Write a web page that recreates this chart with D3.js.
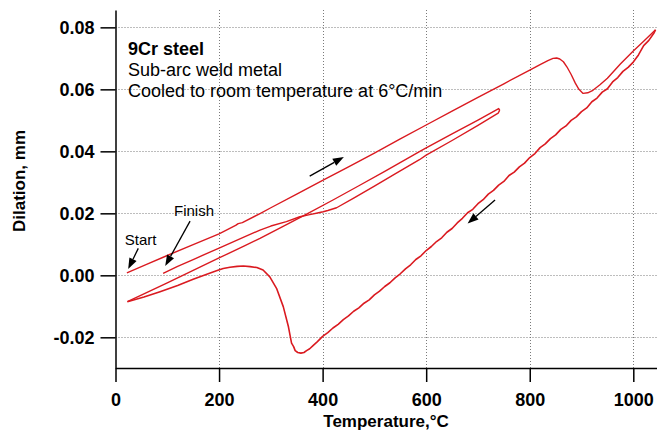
<!DOCTYPE html>
<html><head><meta charset="utf-8">
<script src="https://cdn.jsdelivr.net/npm/d3@7"></script>
<style>
body{margin:0;background:#fff}
svg{display:block}
text{font-family:"Liberation Sans",Arial,Helvetica,sans-serif}
</style>
</head><body><svg id="c" width="657" height="435"></svg>
<script>
// ---------- data (temperature °C, dilation mm) ----------
const xTicks = [0, 200, 400, 600, 800, 1000];
const yTicks = [-0.02, 0.00, 0.02, 0.04, 0.06, 0.08];

// first heating, from Start to peak temperature
const heat1T = [22, 60, 100, 150, 200, 232, 237, 245, 280, 300, 350, 400, 450, 500, 550, 600, 650, 700, 750, 800, 820, 835, 845, 852, 858, 865, 872, 880, 888, 895, 903, 912, 922, 935, 950, 975, 1000, 1020, 1043];
const heat1D = [0.0008, 0.0035, 0.0064, 0.0099, 0.0134, 0.0161, 0.0167, 0.0170, 0.0200, 0.0218, 0.0262, 0.0306, 0.0350, 0.0394, 0.0440, 0.0485, 0.0530, 0.0574, 0.0618, 0.0662, 0.0680, 0.0693, 0.0700, 0.0701, 0.0698, 0.0689, 0.0672, 0.0648, 0.0620, 0.0600, 0.0587, 0.0589, 0.0597, 0.0614, 0.0636, 0.0682, 0.0724, 0.0755, 0.0792];

// cooling to room temperature (noisy trace + martensite transformation)
const cool1T = [1043, 1040, 1030, 1020, 1010, 1000, 990, 980, 970, 960, 950, 940, 930, 920, 910, 900, 890, 880, 870, 860, 850, 840, 830, 820, 810, 800, 790, 780, 770, 760, 750, 740, 730, 720, 710, 700, 690, 680, 670, 660, 650, 640, 630, 620, 610, 600, 590, 580, 570, 560, 550, 540, 530, 520, 510, 500, 490, 480, 470, 460, 450, 440, 430, 420, 410, 400, 390, 382, 375, 369, 364, 358, 352, 347, 344, 340, 334, 324, 311, 298, 285, 273, 260, 247, 235, 221, 208, 195, 175, 150, 120, 86, 55, 23];
const cool1D = [0.0792, 0.0782, 0.0758, 0.0741, 0.0711, 0.0688, 0.0671, 0.0658, 0.0638, 0.0624, 0.0602, 0.0591, 0.0572, 0.0560, 0.0540, 0.0528, 0.0511, 0.0500, 0.0482, 0.0471, 0.0453, 0.0441, 0.0424, 0.0412, 0.0393, 0.0380, 0.0362, 0.0350, 0.0333, 0.0322, 0.0303, 0.0291, 0.0274, 0.0262, 0.0244, 0.0231, 0.0213, 0.0202, 0.0184, 0.0169, 0.0151, 0.0139, 0.0121, 0.0109, 0.0093, 0.0080, 0.0063, 0.0051, 0.0034, 0.0021, 0.0005, -0.0008, -0.0024, -0.0036, -0.0051, -0.0063, -0.0079, -0.0090, -0.0105, -0.0116, -0.0131, -0.0143, -0.0158, -0.0170, -0.0185, -0.0197, -0.0214, -0.0226, -0.0237, -0.0243, -0.0249, -0.0251, -0.0249, -0.0243, -0.0230, -0.0219, -0.0166, -0.0101, -0.0042, -0.0005, 0.0017, 0.0025, 0.0028, 0.0030, 0.0029, 0.0026, 0.0022, 0.0015, 0.0003, -0.0013, -0.0033, -0.0053, -0.0070, -0.0085];

// reheating (tempering) to 740 °C
const heat2T = [23, 60, 100, 150, 200, 250, 279, 320, 370, 420, 470, 520, 587, 600, 650, 700, 740, 742];
const heat2D = [-0.0085, -0.0056, -0.0024, 0.0016, 0.0056, 0.0096, 0.0119, 0.0155, 0.0198, 0.0243, 0.0289, 0.0335, 0.0399, 0.0411, 0.0456, 0.0501, 0.0538, 0.0533];

// final cooling to Finish
const cool2T = [742, 739, 700, 650, 600, 587, 540, 500, 460, 427, 410, 401, 390, 375, 356, 330, 300, 279, 250, 200, 150, 120, 92];
const cool2D = [0.0533, 0.0523, 0.0484, 0.0435, 0.0388, 0.0373, 0.0327, 0.0288, 0.0249, 0.0218, 0.0209, 0.0205, 0.0201, 0.0196, 0.0189, 0.0173, 0.0159, 0.0146, 0.0125, 0.0088, 0.0051, 0.0029, 0.0006];

// annotation arrows (data coordinates: from -> to)
const arrows = [
  {x1: 44, y1: 0.0087, x2: 24.5, y2: 0.0020},
  {x1: 144, y1: 0.0175, x2: 96, y2: 0.0030},
  {x1: 375, y1: 0.0320, x2: 441, y2: 0.0382},
  {x1: 733, y1: 0.0243, x2: 680, y2: 0.0167}
];

// ---------- chart ----------
const svg = d3.select("#c");
const x = d3.scaleLinear().domain([0, 1045]).range([115.5, 656.6]);
const y = d3.scaleLinear().domain([-0.0299, 0.0856]).range([368, 10]);
const RED = "#da1a20";

// grid
const grid = svg.append("g").attr("stroke", "#7a7a7a").attr("stroke-width", 1).attr("stroke-dasharray", "1,2");
grid.selectAll("line.h").data(yTicks).join("line")
  .attr("x1", x(0)).attr("x2", x(1045))
  .attr("y1", d => Math.round(y(d)) + 0.5).attr("y2", d => Math.round(y(d)) + 0.5);
grid.selectAll("line.v").data(xTicks.filter(d => d > 0)).join("line")
  .attr("y1", y(0.0856)).attr("y2", y(-0.0299))
  .attr("x1", d => Math.round(x(d)) + 0.5).attr("x2", d => Math.round(x(d)) + 0.5);

// axes
const fmtY = d => d3.format(".2f")(d).replace("\u2212", "-");
const yAxis = svg.append("g").attr("transform", `translate(${x(0)},0)`)
  .call(d3.axisLeft(y).tickValues(yTicks).tickFormat(fmtY).tickSize(15).tickSizeOuter(0).tickPadding(6));
const xAxis = svg.append("g").attr("transform", `translate(0,${y(-0.0299)})`)
  .call(d3.axisBottom(x).tickValues(xTicks).tickFormat(d3.format("d")).tickSize(14).tickSizeOuter(0).tickPadding(11));
[xAxis, yAxis].forEach(a => {
  a.selectAll("path, line").attr("stroke", "#000").attr("stroke-width", 1.5);
  a.selectAll("text").attr("fill", "#000").style("font-size", "18px").style("font-weight", "bold")
    .style("font-family", '"Liberation Sans", Arial, sans-serif');
});

svg.append("text").attr("x", (x(0) + x(1045)) / 2).attr("y", 427).attr("text-anchor", "middle")
  .style("font-size", "17px").style("font-weight", "bold").text("Temperature,°C");
svg.append("text").attr("transform", "translate(25,181) rotate(-90)").attr("text-anchor", "middle")
  .style("font-size", "17px").style("font-weight", "bold").text("Dilation, mm");

// curves
const line = d3.line().x(d => x(d[0])).y(d => y(d[1]));
const series = [
  [heat1T, heat1D, 1.4],
  [cool1T, cool1D, 1.6],
  [heat2T, heat2D, 1.4],
  [cool2T, cool2D, 1.4]
];
svg.append("g").selectAll("path").data(series).join("path")
  .attr("d", s => line(s[0].map((t, i) => [t, s[1][i]])))
  .attr("fill", "none").attr("stroke", RED).attr("stroke-width", s => s[2])
  .attr("stroke-linejoin", "round");

// annotations
const note = svg.append("g").style("font-size", "18px").attr("fill", "#000");
note.append("text").attr("x", 128).attr("y", 55).style("font-weight", "bold").text("9Cr steel");
note.append("text").attr("x", 128).attr("y", 76).text("Sub-arc weld metal");
note.append("text").attr("x", 128).attr("y", 97).text("Cooled to room temperature at 6°C/min");
svg.append("text").attr("x", x(18)).attr("y", y(0.0098)).style("font-size", "15px").text("Start");
svg.append("text").attr("x", x(113)).attr("y", y(0.019)).style("font-size", "15px").text("Finish");

const ag = svg.append("g");
arrows.forEach(a => {
  const X1 = x(a.x1), Y1 = y(a.y1), X2 = x(a.x2), Y2 = y(a.y2);
  const ang = Math.atan2(Y2 - Y1, X2 - X1);
  const L = 11, W = 4;
  const bx = X2 - L * Math.cos(ang), by = Y2 - L * Math.sin(ang);
  ag.append("line").attr("x1", X1).attr("y1", Y1).attr("x2", bx).attr("y2", by)
    .attr("stroke", "#000").attr("stroke-width", 1.3);
  ag.append("polygon").attr("fill", "#000").attr("points", [
    [X2, Y2],
    [bx + W * Math.sin(ang), by - W * Math.cos(ang)],
    [bx - W * Math.sin(ang), by + W * Math.cos(ang)]
  ].map(p => p.join(",")).join(" "));
});
</script>
</body></html>
